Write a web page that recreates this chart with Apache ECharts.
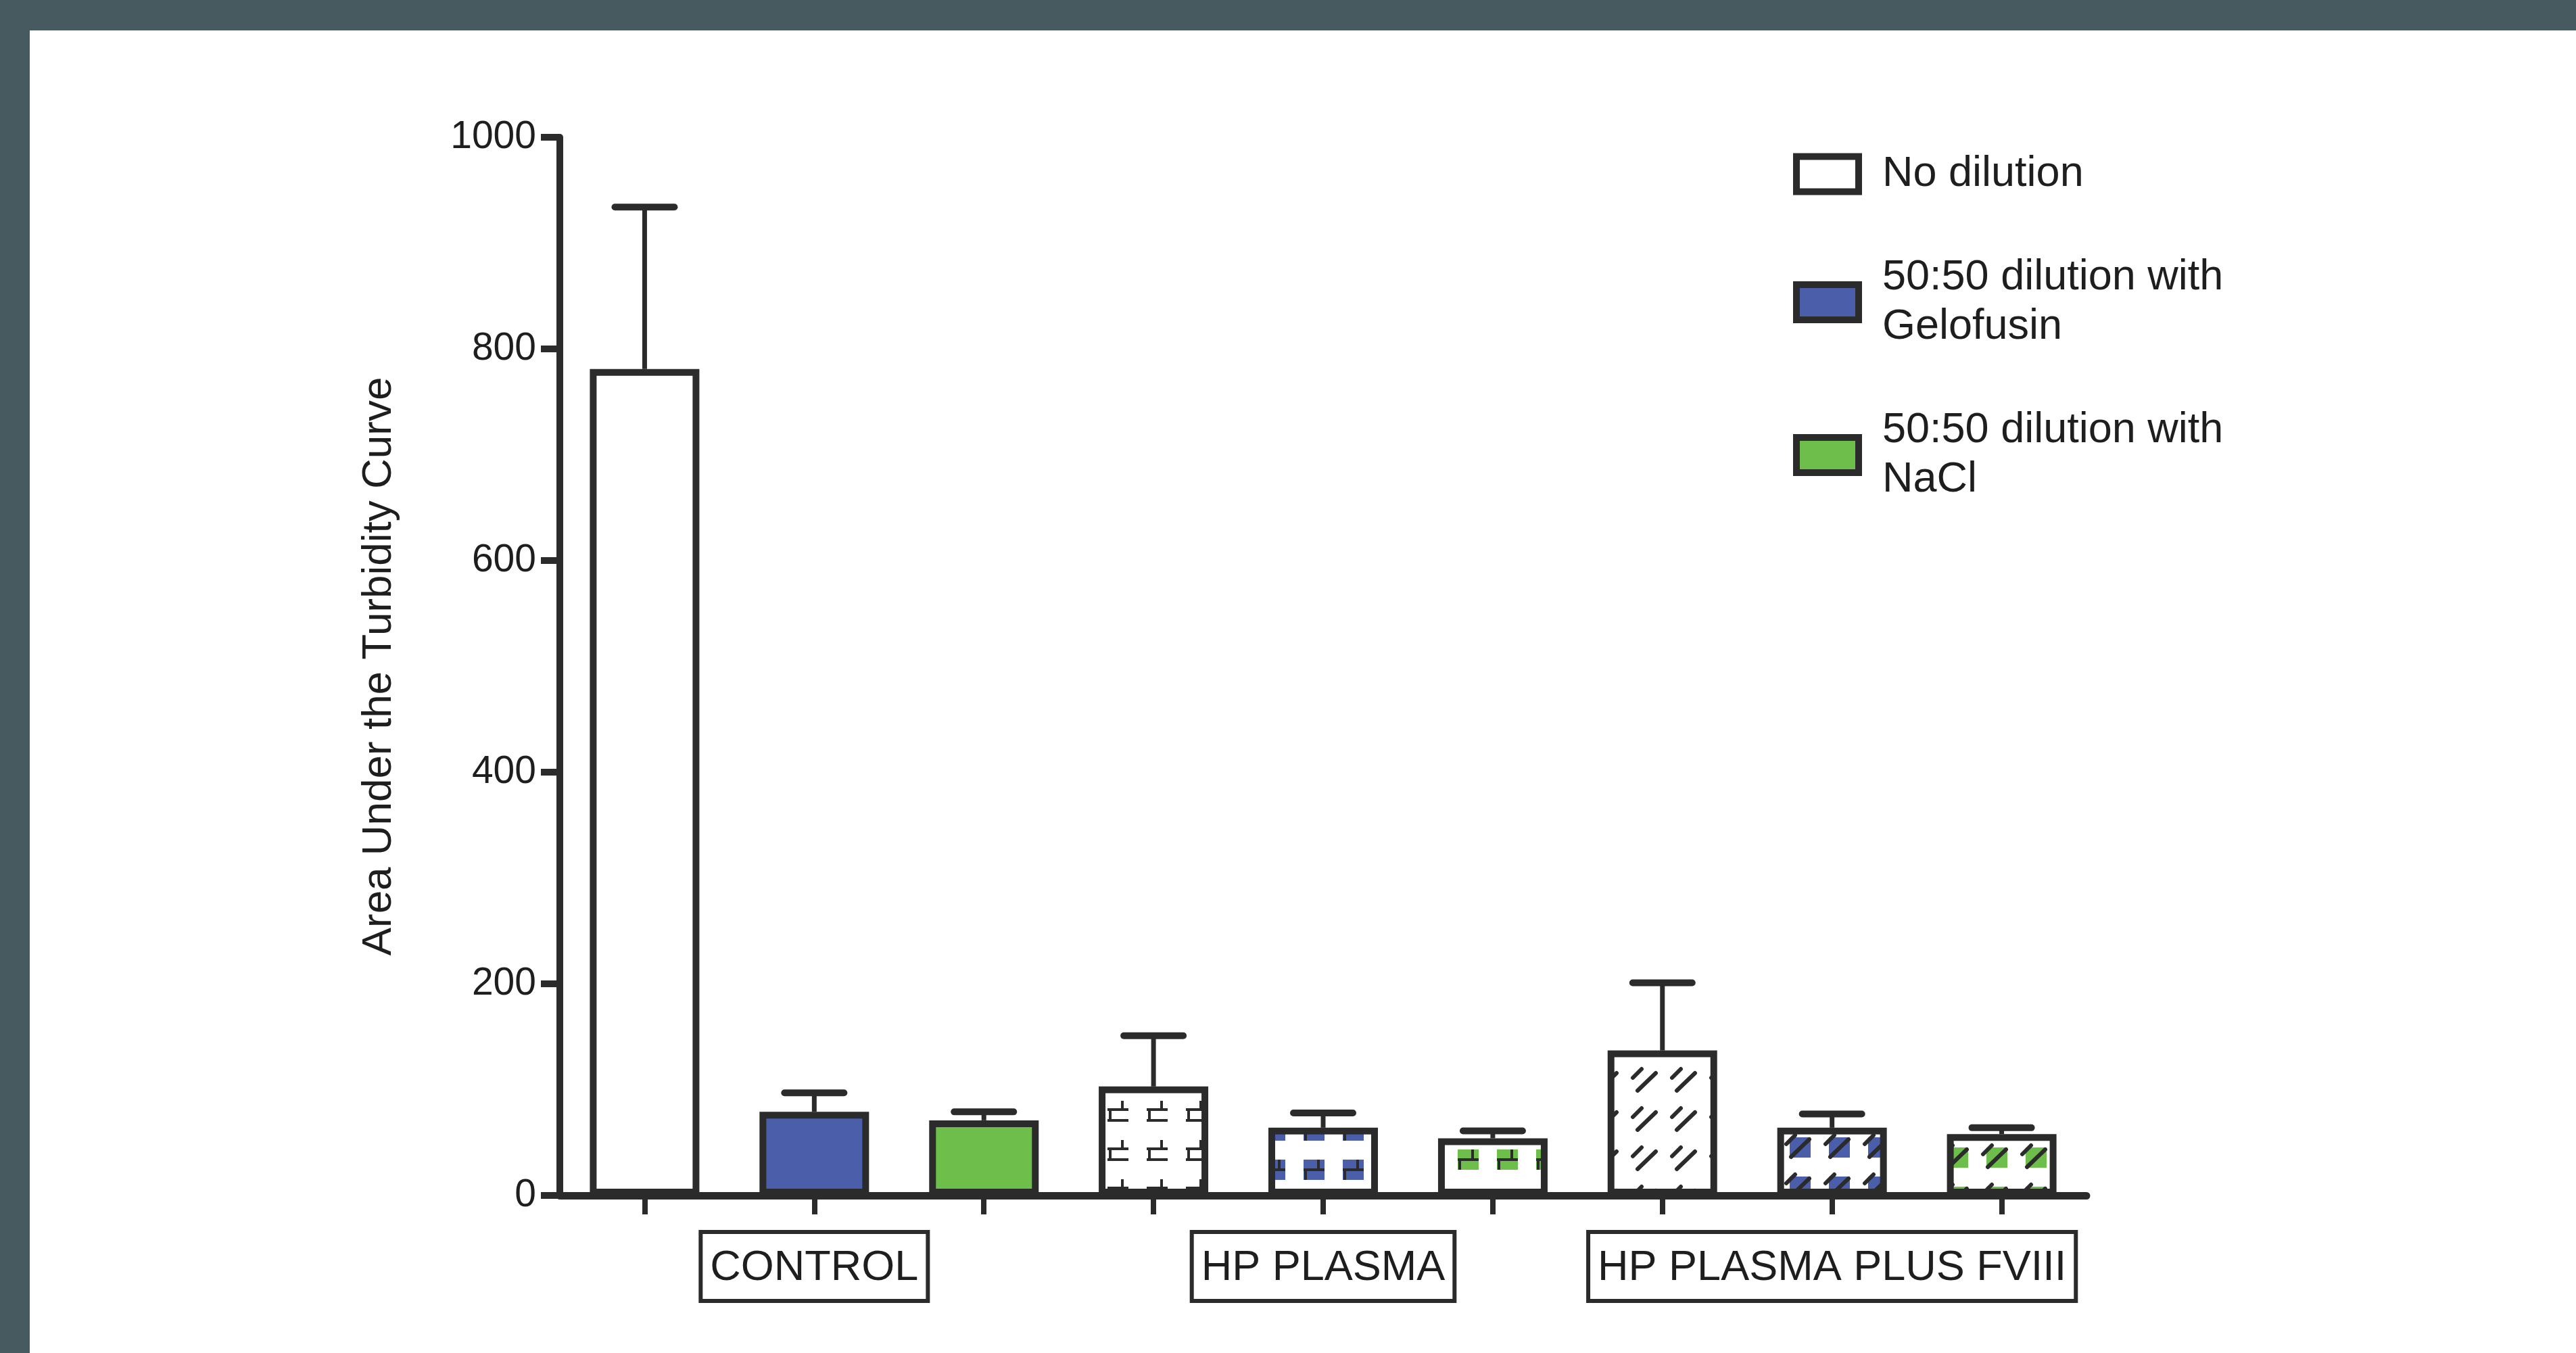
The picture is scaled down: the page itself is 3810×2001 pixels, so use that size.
<!DOCTYPE html>
<html><head><meta charset="utf-8">
<script src="https://cdn.jsdelivr.net/npm/echarts@6/dist/echarts.min.js"></script>
<style>html,body{margin:0;padding:0;background:#fff}#chart{width:3810px;height:2001px}</style>
</head><body><div id="chart"></div>
<script>
// ---- data ----
const groups = ['CONTROL', 'HP PLASMA', 'HP PLASMA PLUS FVIII'];
const conditions = ['No dilution', '50:50 dilution with\nGelofusin', '50:50 dilution with\nNaCl'];
const noDilution = [781, 103, 137];
const gelofusin = [79, 64, 64];
const nacl = [71, 54, 58];
const noDilutionErr = [153, 48, 64];
const gelofusinErr = [18, 14, 13];
const naclErr = [8, 7, 6];
const yTicks = [0, 200, 400, 600, 800, 1000];
const yTitle = 'Area Under the Turbidity Curve';

// ---- styles ----
const INK = '#2b2b2b';
const TXT = '#1e1e1e';
const FONT = "'Liberation Sans', Arial, sans-serif";
const condColors = ['#ffffff', '#4b5ea9', '#6dbe4b'];
const groupPattern = [null, 'brick', 'slash'];
// pattern phase shifts [group][condition] (pure styling)
const patternShift = [
  [[0, 0], [0, 0], [0, 0]],
  [[-4, -13], [-1, 11], [-5, -4]],
  [[24, 4], [19, -14], [20, 1]]
];

function makePattern(fill, kind, shift) {
  const T = 58;
  const c = document.createElement('canvas');
  c.width = T; c.height = T;
  const ctx = c.getContext('2d');
  ctx.fillStyle = '#ffffff';
  ctx.fillRect(0, 0, T, T);
  ctx.strokeStyle = INK;
  for (let i = -1; i <= 1; i++) {
    for (let j = -1; j <= 1; j++) {
      ctx.save();
      ctx.translate(shift[0] + i * T, shift[1] + j * T);
      if (kind === 'brick') {
        ctx.lineWidth = 4;
        ctx.lineCap = 'butt';
        if (fill !== '#ffffff') {
          ctx.fillStyle = fill;
          ctx.fillRect(15, 22, 31, 30);
          ctx.beginPath();
          ctx.moveTo(15, 37); ctx.lineTo(46, 37);
          ctx.moveTo(18, 37); ctx.lineTo(18, 52);
          ctx.moveTo(37, 22); ctx.lineTo(37, 37);
          ctx.stroke();
        } else {
          ctx.beginPath();
          ctx.moveTo(49, 30); ctx.lineTo(18, 30);
          ctx.moveTo(22, 30); ctx.lineTo(22, 46);
          ctx.moveTo(18, 46); ctx.lineTo(49, 46);
          ctx.moveTo(40, 17); ctx.lineTo(40, 30);
          ctx.stroke();
        }
      } else if (kind === 'slash') {
        if (fill !== '#ffffff') {
          ctx.fillStyle = fill;
          ctx.fillRect(18, 14, 31, 30);
        }
        ctx.lineWidth = 6;
        ctx.lineCap = 'round';
        ctx.beginPath();
        ctx.moveTo(20, 43); ctx.lineTo(47, 17);
        ctx.moveTo(13, 24); ctx.lineTo(26, 11);
        ctx.stroke();
      }
      ctx.restore();
    }
  }
  return { image: c, repeat: 'repeat' };
}

const means = [noDilution, gelofusin, nacl];
const errs = [noDilutionErr, gelofusinErr, naclErr];

const flatLabels = [];
const errData = [];
groups.forEach((g, gi) => {
  conditions.forEach((cn, ci) => {
    flatLabels.push(g + ' / ' + cn.replace('\n', ' '));
    errData.push([gi * conditions.length + ci, means[ci][gi], means[ci][gi] + errs[ci][gi]]);
  });
});

const barSeries = conditions.map((name, ci) => ({
  type: 'bar',
  name: name,
  xAxisIndex: 0,
  yAxisIndex: 0,
  barWidth: 162,
  barGap: '54.9%',
  z: 3,
  itemStyle: { color: condColors[ci], borderColor: INK, borderWidth: 10 },
  data: means[ci].map((v, gi) => groupPattern[gi]
    ? { value: v, itemStyle: { color: makePattern(condColors[ci], groupPattern[gi], patternShift[gi][ci]) } }
    : v)
}));

const errSeries = {
  type: 'custom',
  name: 'error',
  xAxisIndex: 1,
  yAxisIndex: 0,
  z: 5,
  silent: true,
  data: errData,
  renderItem: function (params, api) {
    const top = api.coord([api.value(0), api.value(2)]);
    const base = api.coord([api.value(0), api.value(1)]);
    const half = 44;
    return {
      type: 'group',
      children: [
        { type: 'line', shape: { x1: top[0], y1: base[1], x2: top[0], y2: top[1] },
          style: { stroke: INK, lineWidth: 7 } },
        { type: 'line', shape: { x1: top[0] - half, y1: top[1], x2: top[0] + half, y2: top[1] },
          style: { stroke: INK, lineWidth: 10, lineCap: 'round' } }
      ]
    };
  }
};

const chart = echarts.init(document.getElementById('chart'), null, { renderer: 'canvas' });
chart.setOption({
  animation: false,
  backgroundColor: '#ffffff',
  textStyle: { fontFamily: FONT },
  graphic: [
    { type: 'rect', z: -10, shape: { x: 0, y: 0, width: 3810, height: 45 }, style: { fill: '#475a5f' } },
    { type: 'rect', z: -10, shape: { x: 0, y: 0, width: 44, height: 2001 }, style: { fill: '#475a5f' } }
  ],
  grid: { left: 828, right: 724, top: 203, bottom: 233, containLabel: false },
  legend: {
    orient: 'vertical',
    left: 2647,
    top: 216,
    itemWidth: 92,
    itemHeight: 52,
    itemGap: 80,
    icon: 'rect',
    selectedMode: false,
    itemStyle: { borderColor: INK, borderWidth: 10 },
    textStyle: { fontSize: 63, lineHeight: 73, color: TXT, fontFamily: FONT, padding: [0, 0, 0, 30] },
    data: conditions
  },
  xAxis: [
    {
      type: 'category',
      data: groups,
      position: 'bottom',
      axisLine: { show: true, lineStyle: { color: INK, width: 11 } },
      axisTick: { show: false },
      splitLine: { show: false },
      axisLabel: {
        interval: 0,
        fontSize: 63, color: TXT, fontFamily: FONT, margin: 54,
        borderColor: INK, borderWidth: 6, padding: [18, 14, 12, 14], lineHeight: 72
      }
    },
    {
      type: 'category',
      data: flatLabels,
      position: 'bottom',
      axisLine: { show: false },
      axisTick: { show: true, interval: 0, alignWithLabel: true, length: 28, lineStyle: { color: INK, width: 8 } },
      axisLabel: { show: false, interval: 0 },
      splitLine: { show: false }
    }
  ],
  yAxis: {
    type: 'value',
    min: yTicks[0],
    max: yTicks[yTicks.length - 1],
    interval: yTicks[1] - yTicks[0],
    name: yTitle,
    nameLocation: 'middle',
    nameGap: 236,
    nameTextStyle: { fontSize: 62, color: TXT, fontFamily: FONT },
    axisLine: { show: true, lineStyle: { color: INK, width: 10 } },
    axisTick: { show: true, length: 28, lineStyle: { color: INK, width: 10 } },
    axisLabel: { fontSize: 57, color: TXT, fontFamily: FONT, margin: 35, formatter: function (v) { return String(v); } },
    splitLine: { show: false }
  },
  series: barSeries.concat([errSeries])
});
</script>
</body></html>
